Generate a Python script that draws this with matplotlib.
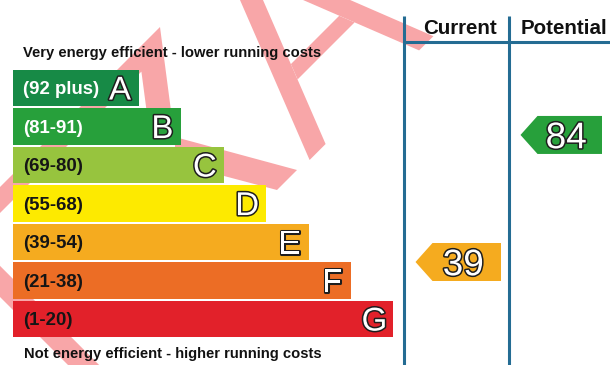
import matplotlib
matplotlib.use('Agg')
import matplotlib.pyplot as plt
from matplotlib.patches import Polygon
import matplotlib.patheffects as pe

# ---------------- data ----------------
bands = ['A', 'B', 'C', 'D', 'E', 'F', 'G']
ranges = ['(92 plus)', '(81-91)', '(69-80)', '(55-68)', '(39-54)', '(21-38)', '(1-20)']
band_low = [92, 81, 69, 55, 39, 21, 1]
band_high = [100, 91, 80, 68, 54, 38, 20]
band_colors = ['#178a46', '#27a03b', '#97c43e', '#fdea00', '#f5ab1f', '#ec6d25', '#e2212a']
range_text_colors = ['white', 'white', '#151515', '#151515', '#151515', '#151515', '#151515']
columns = ['Current', 'Potential']
scores = [39, 84]
top_note = 'Very energy efficient - lower running costs'
bottom_note = 'Not energy efficient - higher running costs'

# ---------------- layout (pixels) ----------------
W, H = 610, 365
FONT = 'Liberation Sans'
PX = 0.72  # pt per px at 100 dpi
bar_left = 13
top0 = 69.5
pitch = 38.5
bar_h = 36.5
base_w = 126
step_w = 42.4
line_col = '#246c93'
wm_col = '#f8a6a8'
col_edges = [404, 509, 610]

fig = plt.figure(figsize=(W / 100, H / 100), dpi=100)
ax = fig.add_axes([0, 0, 1, 1])
ax.set_xlim(0, W)
ax.set_ylim(H, 0)
ax.axis('off')


# ---------------- watermark (decorative strokes, beneath everything) ----------------
def rot(r, d):
    # watermark frame (rotated 45 deg) -> pixel coords
    return (0.7071 * (r + d), 0.7071 * (d - r))


wm_shapes = [
    [(160, 27), (-5, 192), (-5, 218), (141.4, 71.6), (147.8, 120), (172.2, 120)],
    [(175, 137), (297, 170), (277, 190), (175, 163)],
    [(222.6, -40), (245.6, -40), (325.6, 144), (309.6, 160)],
    [(240, -47.9), (433.4, 36.2), (419.1, 50.4), (240, -27.4)],
    [(290.9, 64.1), (339.2, 15.8), (354.6, 22.4), (297.6, 79.4)],
    [rot(-210, 120), rot(-188, 120), rot(-188, 340), rot(-210, 340)],
]
for shp in wm_shapes:
    ax.add_patch(Polygon(shp, closed=True, facecolor=wm_col, edgecolor='none', zorder=0))

# ---------------- bars ----------------
n = len(bands)
tops = [top0 + pitch * i for i in range(n)]
centers = [t + bar_h / 2 for t in tops]
widths = [base_w + step_w * i for i in range(n)]
ax.barh(centers, widths, left=bar_left, height=bar_h, color=band_colors,
        edgecolor='none', zorder=2)

range_fs = 18.7
letter_fs = 33
outline = [pe.withStroke(linewidth=2.2, foreground='#1e1e1e')]
for i in range(n):
    ax.text(bar_left + 10, centers[i] + 0.716 * range_fs / 2, ranges[i],
            fontsize=range_fs * PX, fontfamily=FONT, fontweight='bold',
            color=range_text_colors[i], ha='left', va='baseline', zorder=3)
    ax.text(bar_left + widths[i] - 19, centers[i] + 0.716 * letter_fs / 2, bands[i],
            fontsize=letter_fs * PX, fontfamily=FONT, color='white',
            ha='center', va='baseline', zorder=3, path_effects=outline)

note_fs = 14.8
ax.text(23, 57, top_note, fontsize=note_fs * PX, fontfamily=FONT, fontweight='bold',
        color='#111111', ha='left', va='baseline', zorder=3)
ax.text(24, 358, bottom_note, fontsize=note_fs * PX, fontfamily=FONT, fontweight='bold',
        color='#111111', ha='left', va='baseline', zorder=3)

# ---------------- header grid ----------------
for x in col_edges[:2]:
    ax.plot([x, x], [16, H], color=line_col, lw=2.2, solid_capstyle='butt', zorder=4)
ax.plot([col_edges[0], W], [42, 42], color=line_col, lw=2.2, solid_capstyle='butt', zorder=4)
head_fs = 20.5
for j, name in enumerate(columns):
    cx = (col_edges[j] + col_edges[j + 1]) / 2 + 4
    ax.text(cx, 34.5, name, fontsize=head_fs * PX, fontfamily=FONT, fontweight='bold',
            color='#111111', ha='center', va='baseline', zorder=3)


# ---------------- rating arrows ----------------
def score_band(s):
    for i in range(n):
        if band_low[i] <= s <= band_high[i]:
            return i
    return n - 1


arrow_h = 38
digit_fs = 37
for j, s in enumerate(scores):
    i = score_band(s)
    yc = tops[i] + (band_high[i] - s) / (band_high[i] - band_low[i]) * pitch
    x_tip = col_edges[j] + 11.5
    x_body = x_tip + 17
    x_right = col_edges[j + 1] - 8
    pts = [(x_tip, yc), (x_body, yc - arrow_h / 2), (x_right, yc - arrow_h / 2),
           (x_right, yc + arrow_h / 2), (x_body, yc + arrow_h / 2)]
    ax.add_patch(Polygon(pts, closed=True, facecolor=band_colors[i], edgecolor='none', zorder=5))
    ax.text((x_tip + x_right) / 2 + 5, yc + 0.716 * digit_fs / 2, str(s),
            fontsize=digit_fs * PX, fontfamily=FONT, color='white',
            ha='center', va='baseline', zorder=6, path_effects=outline)

fig.savefig('out.png', dpi=100)
